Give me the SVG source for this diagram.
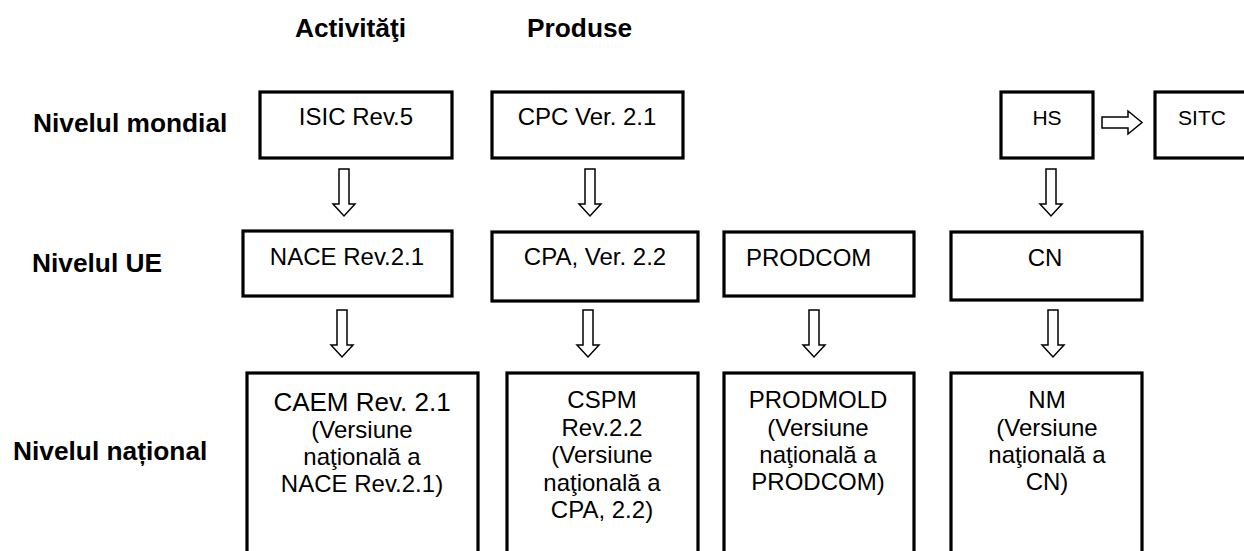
<svg xmlns="http://www.w3.org/2000/svg" xmlns:xlink="http://www.w3.org/1999/xlink" width="1244" height="551" viewBox="0 0 1244 551">
<style>
.box{fill:#fff;stroke:#000;stroke-width:3.2}
.t{font-family:"Liberation Sans",Arial,sans-serif;font-size:24px;fill:#000;text-anchor:middle}
.s{font-size:21px}
.b{font-family:"Liberation Sans",Arial,sans-serif;font-size:26.3px;font-weight:bold;fill:#000}
.arr{fill:#fff;stroke:#000;stroke-width:1.5;stroke-linejoin:miter}
</style>
<defs>
<path id="dn" d="M-5 0 H5 V35 H11 L0 47 L-11 35 H-5 Z"/>
<path id="rt" d="M0 -5.5 H26 V-11.5 L40 0 L26 11.5 V5.5 H0 Z"/>
</defs>
<rect width="1244" height="551" fill="#fff"/>

<g id="labels">
<text class="b" x="295" y="37">Activităţi</text>
<text class="b" x="527" y="37">Produse</text>
<text class="b" x="33" y="132">Nivelul mondial</text>
<text class="b" x="32" y="272">Nivelul UE</text>
<text class="b" x="13" y="460">Nivelul național</text>
</g>

<g id="isic"><rect class="box" x="260" y="92" width="192" height="66"/><text class="t" x="356" y="125">ISIC Rev.5</text></g>
<g id="cpc"><rect class="box" x="492" y="92" width="191" height="66"/><text class="t" x="587" y="125">CPC Ver. 2.1</text></g>
<g id="hs"><rect class="box" x="1001" y="92" width="92" height="66"/><text class="t s" x="1047" y="125">HS</text></g>
<g id="sitc"><rect class="box" x="1155" y="92" width="100" height="66"/><text class="t s" x="1202" y="125">SITC</text></g>

<g id="nace"><rect class="box" x="243" y="231" width="209" height="65"/><text class="t" x="347" y="265">NACE Rev.2.1</text></g>
<g id="cpa"><rect class="box" x="492" y="232" width="206" height="69"/><text class="t" x="595" y="265">CPA, Ver. 2.2</text></g>
<g id="prodcom"><rect class="box" x="724" y="232" width="190" height="64"/><text class="t" x="746" y="266" style="text-anchor:start">PRODCOM</text></g>
<g id="cn"><rect class="box" x="951" y="232" width="191" height="68"/><text class="t" x="1045" y="266">CN</text></g>

<g id="caem"><rect class="box" x="247" y="373" width="231" height="200"/>
<text class="t" x="362"><tspan x="362" y="411" style="font-size:26px">CAEM Rev. 2.1</tspan><tspan x="362" y="438">(Versiune</tspan><tspan x="362" y="465">naţională a</tspan><tspan x="362" y="492">NACE Rev.2.1)</tspan></text></g>
<g id="cspm"><rect class="box" x="507" y="373" width="191" height="200"/>
<text class="t" x="602"><tspan x="602" y="408">CSPM</tspan><tspan x="602" y="435.5">Rev.2.2</tspan><tspan x="602" y="463">(Versiune</tspan><tspan x="602" y="490.5">naţională a</tspan><tspan x="602" y="518">CPA, 2.2)</tspan></text></g>
<g id="prodmold"><rect class="box" x="724" y="373" width="190" height="200"/>
<text class="t" x="818"><tspan x="818" y="408">PRODMOLD</tspan><tspan x="818" y="436">(Versiune</tspan><tspan x="818" y="463">naţională a</tspan><tspan x="818" y="490">PRODCOM)</tspan></text></g>
<g id="nm"><rect class="box" x="951" y="373" width="191" height="200"/>
<text class="t" x="1047"><tspan x="1047" y="408">NM</tspan><tspan x="1047" y="436">(Versiune</tspan><tspan x="1047" y="463">naţională a</tspan><tspan x="1047" y="490">CN)</tspan></text></g>

<g id="connectors">
<use href="#dn" xlink:href="#dn" class="arr" transform="translate(344 169)"/>
<use href="#dn" xlink:href="#dn" class="arr" transform="translate(590 169)"/>
<use href="#dn" xlink:href="#dn" class="arr" transform="translate(1051 169)"/>
<use href="#rt" xlink:href="#rt" class="arr" transform="translate(1102 122.5)"/>
<use href="#dn" xlink:href="#dn" class="arr" transform="translate(342 310)"/>
<use href="#dn" xlink:href="#dn" class="arr" transform="translate(588 310)"/>
<use href="#dn" xlink:href="#dn" class="arr" transform="translate(814 310)"/>
<use href="#dn" xlink:href="#dn" class="arr" transform="translate(1053 310)"/>
</g>
</svg>
